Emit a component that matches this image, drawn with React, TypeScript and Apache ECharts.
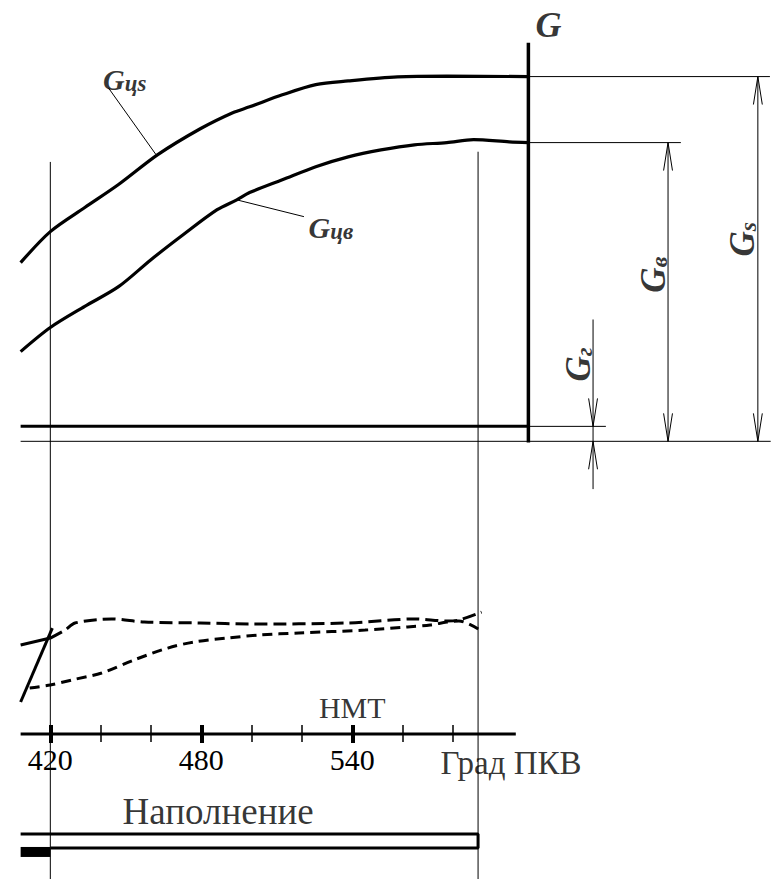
import { useEffect, useRef } from 'react';
import * as echarts from 'echarts';

const SERIF = 'Liberation Serif';

// ---- Upper panel: cylinder charge vs crank angle (° CA) ----
const gcsAngle = [408.2, 420, 433.7, 447.1, 462.7, 479.6, 492.5, 499.2, 512.2, 525.5, 538.4, 558, 577.6, 610];
const gcsValue = [49.0, 57.5, 64.1, 70.4, 78.6, 85.7, 90.1, 91.7, 95.0, 97.8, 98.8, 99.9, 100.1, 100];

const gcvAngle = [408.2, 420, 433.7, 447.1, 460, 472.9, 486.3, 494.1, 499.2, 512.2, 525.5, 538.4, 551.4, 564.7, 577.6, 588.2, 602.4, 610];
const gcvValue = [24.6, 31.2, 37.0, 42.4, 49.8, 56.7, 63.5, 66.2, 68.2, 71.7, 75.3, 78.0, 79.9, 81.3, 81.9, 82.7, 82.1, 81.9];

// Charge levels read on the G axis
const levelGs = 100;
const levelGv = 81.9;
const levelGr = 4.1;

// ---- Lower panel: flow traces ----
const flowSolidAngle = [408.2, 420];
const flowSolidValue = [57.8, 62.3];

const flowUpperAngle = [420, 425.9, 429.8, 444.3, 457.3, 479.6, 499.2, 538.4, 564.7, 577.6, 582.4, 591.4];
const flowUpperValue = [62.3, 67.5, 72.1, 74.7, 72.7, 72.1, 71.4, 72.1, 74.7, 73.4, 74.0, 79.2];

const flowLowerAngle = [411.8, 420, 428.6, 440.4, 453.3, 466.7, 476.9, 490.2, 503.1, 518.8, 545.1, 562, 571, 577.6, 582.4, 591.4];
const flowLowerValue = [29.9, 31.8, 35.1, 39.6, 48.1, 55.8, 59.7, 62.3, 64.3, 65.6, 67.5, 69.5, 70.8, 72.7, 73.4, 66.9];

const rampAngle = [408.2, 420.8];
const rampValue = [20.8, 68.8];

// ---- Crank angle scale ----
const axisStart = 408.2;
const axisEnd = 605;
const majorTicks = [420, 480, 540];
const minorTicks = [440, 460, 500, 520, 560, 580];
const bdcAngle = 540;

// ---- Filling phase ----
const preFillStart = 408.2;
const fillStart = 420;
const fillEnd = 590;

// layout of the drawing (degrees / G units)
const X_MIN = 400;
const X_MAX = 710;
const PX_PER_DEG = 2.55;
const PX_PER_G = 3.653;
const gAxisAt = 610;
const gAxisTop = 109.3;
const extRight = 706;
const dimGsAt = 701.2;
const dimGvAt = 665.5;
const dimGvExt = 670.6;
const dimGrAt = 635.7;
const dimGrExt = 640.8;
const guideBottom = -120;

const zip = (a: number[], b: number[]) => a.map((x, i) => [x, b[i]]);

function line(points: number[][], panel: number, width: number, dash?: number[], smooth = 0) {
  return {
    type: 'line',
    xAxisIndex: panel === 0 ? 0 : 1,
    yAxisIndex: panel,
    data: points,
    symbol: 'none',
    silent: true,
    clip: false,
    smooth,
    lineStyle: { color: '#000', width, type: dash ?? 'solid', cap: 'butt' },
    z: 3,
  };
}

// open arrowhead: tip at (x, g); dir = 1 points up, -1 points down
function arrow(x: number, g: number, dir: number) {
  const len = 28 / PX_PER_G;
  const hw = 4.5 / PX_PER_DEG;
  return line([[x - hw, g - dir * len], [x, g], [x + hw, g - dir * len]], 0, 1);
}

const gStyle = { fontFamily: SERIF, fontWeight: 'bold', fontStyle: 'italic', color: '#000' };

function label(x: number, y: number, panel: number, text: string, rich: any, rotate = 0) {
  return {
    type: 'scatter',
    xAxisIndex: panel === 0 ? 0 : 1,
    yAxisIndex: panel,
    symbolSize: 1,
    itemStyle: { color: 'rgba(0,0,0,0)' },
    silent: true,
    clip: false,
    z: 5,
    data: [{ value: [x, y] }],
    label: { show: true, position: 'inside', formatter: text, rotate, rich, color: '#000', fontFamily: SERIF },
  };
}

const sub = (gSize: number, sSize: number) => ({
  g: { ...gStyle, fontSize: gSize, verticalAlign: 'bottom' },
  s: { ...gStyle, fontSize: sSize, verticalAlign: 'bottom' },
});

function buildOption() {
  const gridX = { left: 48 - (420 - X_MIN) * PX_PER_DEG, width: (X_MAX - X_MIN) * PX_PER_DEG };
  const tickAxis = {
    gridIndex: 1,
    type: 'value',
    min: X_MIN,
    max: X_MAX,
    position: 'bottom',
    offset: -9,
    axisLine: { show: false, onZero: false },
    splitLine: { show: false },
  };
  const plain = (size: number) => ({ t: { fontFamily: SERIF, fontSize: size, color: '#000' } });
  const series: any[] = [
    // charge curves
    line(zip(gcsAngle, gcsValue), 0, 3.2, undefined, 0.3),
    line(zip(gcvAngle, gcvValue), 0, 3.2, undefined, 0.3),
    // G axis and base lines
    line([[gAxisAt, -0.3], [gAxisAt, gAxisTop]], 0, 3.5),
    line([[axisStart, levelGr], [gAxisAt, levelGr]], 0, 3),
    line([[axisStart, 0], [extRight + 0.3, 0]], 0, 1),
    line([[gAxisAt, levelGs], [extRight, levelGs]], 0, 1),
    line([[gAxisAt, levelGv], [dimGvExt, levelGv]], 0, 1),
    line([[gAxisAt, levelGr], [dimGrExt, levelGr]], 0, 1),
    // guide verticals at start / end of filling
    line([[fillStart, 76.6], [fillStart, guideBottom]], 0, 1),
    line([[fillEnd, 79.4], [fillEnd, guideBottom]], 0, 1),
    // dimension lines
    line([[dimGsAt, 0], [dimGsAt, levelGs]], 0, 1),
    arrow(dimGsAt, levelGs, 1),
    arrow(dimGsAt, 0, -1),
    line([[dimGvAt, 0], [dimGvAt, levelGv]], 0, 1),
    arrow(dimGvAt, levelGv, 1),
    arrow(dimGvAt, 0, -1),
    line([[dimGrAt, 33.4], [dimGrAt, -13.1]], 0, 1),
    arrow(dimGrAt, levelGr, -1),
    arrow(dimGrAt, 0, 1),
    // leaders
    line([[443.1, 96.9], [462.0, 78.6]], 0, 1),
    line([[494.1, 66.2], [520.8, 61.6]], 0, 1),
    // lower panel
    line(zip(flowSolidAngle, flowSolidValue), 1, 3),
    line(zip(flowUpperAngle, flowUpperValue), 1, 3, [13, 6], 0.3),
    line(zip(flowLowerAngle, flowLowerValue), 1, 3, [10, 6], 0.3),
    line(zip(rampAngle, rampValue), 1, 3),
    line([[axisStart, 0], [axisEnd, 0]], 1, 3),
    // filling bar
    line([[preFillStart, -64.9], [fillEnd, -64.9], [fillEnd, -74.0], [fillStart, -74.0]], 1, 3),
    line([[preFillStart, -76.6], [fillStart, -76.6]], 1, 10),
    // texts
    label(618, 114.2, 0, '{g|G}', { g: { ...gStyle, fontSize: 36 } }),
    label(449.6, 99.1, 0, '{g|G}{s|цs}', sub(30, 23)),
    label(531.5, 58.6, 0, '{g|G}{s|цв}', sub(30, 23)),
    label(695.1, 55.4, 0, '{g|G}{s|s}', sub(35, 24), 90),
    label(659.6, 45.7, 0, '{g|G}{s|в}', sub(35, 24), 90),
    label(630, 21.1, 0, '{g|G}{s|г}', sub(35, 24), 90),
    label(bdcAngle, 17.5, 1, '{t|НМТ}', plain(30)),
    label(603.1, -18.8, 1, '{t|Град ПКВ}', plain(33)),
    label(486.7, -50.6, 1, '{t|Наполнение}', plain(37)),
  ];
  return {
    animation: false,
    grid: [
      { ...gridX, top: 442 - 120 * PX_PER_G, height: 240 * PX_PER_G },
      { ...gridX, top: 580, height: 154 },
    ],
    xAxis: [
      { gridIndex: 0, type: 'value', min: X_MIN, max: X_MAX, show: false },
      {
        ...tickAxis,
        axisTick: { show: true, customValues: majorTicks, length: 18, lineStyle: { color: '#000', width: 4 } },
        axisLabel: { show: true, customValues: majorTicks, margin: 19, fontSize: 30, fontFamily: SERIF, color: '#000' },
      },
      {
        ...tickAxis,
        axisTick: { show: true, customValues: minorTicks, length: 17, lineStyle: { color: '#000', width: 1.5 } },
        axisLabel: { show: false },
      },
    ],
    yAxis: [
      { gridIndex: 0, type: 'value', min: -120, max: 120, show: false },
      { gridIndex: 1, type: 'value', min: 0, max: 100, show: false },
    ],
    series,
  };
}

export default function App() {
  const ref = useRef<HTMLDivElement>(null);
  useEffect(() => {
    const chart = echarts.init(ref.current!, null, { renderer: 'svg' });
    chart.setOption(buildOption() as any);
    return () => chart.dispose();
  }, []);
  return (
    <div
      ref={ref}
      style={{ position: 'absolute', left: 0, top: 0, width: 780, height: 879, background: '#fff' }}
    />
  );
}
